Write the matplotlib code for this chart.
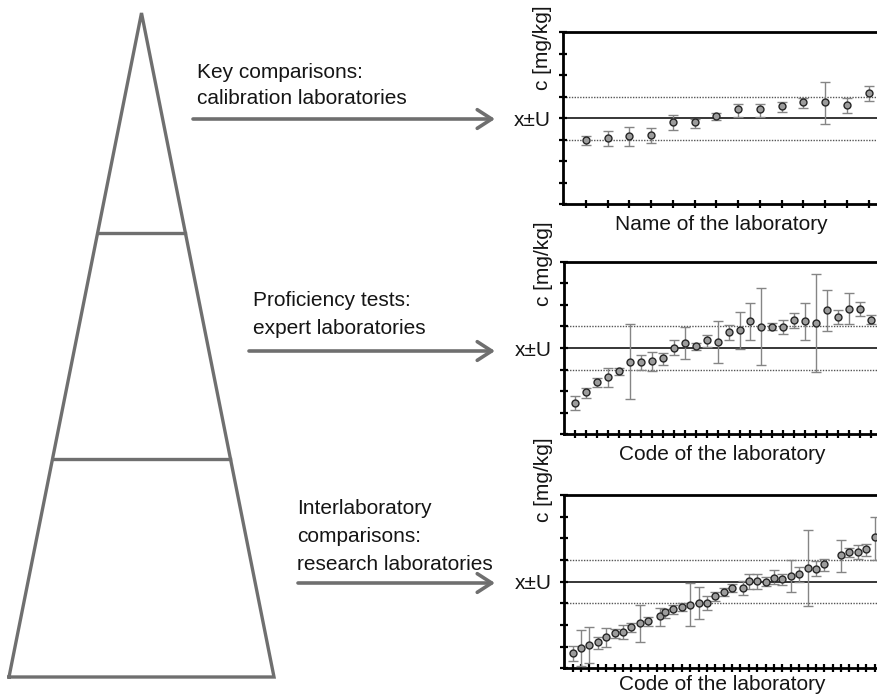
import numpy as np
import matplotlib
matplotlib.use("Agg")
import matplotlib.pyplot as plt
from matplotlib import font_manager

# condensed sans if available, plain Liberation Sans otherwise
_names = {f.name for f in font_manager.fontManager.ttflist}
FONT = "Liberation Sans Narrow" if "Liberation Sans Narrow" in _names else "Liberation Sans"
plt.rcParams["font.family"] = [FONT, "DejaVu Sans"]

# ---- key comparisons (calibration laboratories) ----
kc_x = np.arange(1, 15)
kc_y = [2.98, 3.06, 3.17, 3.23, 3.80, 3.80, 4.10, 4.41, 4.41, 4.57, 4.77, 4.74, 4.60, 5.16]
kc_hi = [3.18, 3.40, 3.60, 3.56, 4.15, 3.96, 4.25, 4.66, 4.64, 4.77, 4.94, 5.70, 4.92, 5.50]
kc_lo = [2.75, 2.70, 2.72, 2.86, 3.46, 3.54, 3.90, 4.07, 4.07, 4.29, 4.47, 3.73, 4.24, 4.81]

# ---- proficiency tests (expert laboratories) ----
pt_x = np.arange(1, 29)
pt_y = [1.46, 1.95, 2.42, 2.65, 2.92, 3.37, 3.34, 3.40, 3.52, 4.00, 4.23, 4.09, 4.35, 4.27,
        4.72, 4.82, 5.23, 4.98, 4.98, 4.98, 5.28, 5.23, 5.15, 5.74, 5.43, 5.83, 5.82, 5.28]
pt_hi = [1.78, 2.14, 2.63, 3.08, 3.08, 5.12, 3.68, 3.82, 3.77, 4.35, 4.97, 4.25, 4.60, 5.25,
         5.06, 5.66, 6.08, 6.77, 5.15, 5.32, 5.62, 6.08, 7.43, 6.71, 5.77, 6.57, 6.15, 5.52]
pt_lo = [1.12, 1.69, 2.20, 2.18, 2.74, 1.62, 2.98, 2.92, 3.22, 3.68, 3.49, 3.89, 4.03, 3.31,
         4.38, 3.97, 4.38, 3.23, 4.82, 4.65, 4.94, 4.38, 2.89, 4.78, 5.11, 5.11, 5.48, 5.09]

# ---- interlaboratory comparisons (research laboratories) ----
ilc_x = [1, 2, 3, 4, 5, 6, 7, 8, 9, 10, 11.4, 12, 13, 14, 15, 16, 17, 18, 19, 20,
         21.3, 22, 23, 24, 25, 26, 27, 28, 29, 30, 31, 33, 34, 35, 36, 37]
ilc_y = [0.69, 0.94, 1.09, 1.20, 1.43, 1.65, 1.68, 1.92, 2.08, 2.18, 2.40, 2.60, 2.74, 2.85,
         2.92, 3.03, 3.03, 3.34, 3.54, 3.72, 3.69, 4.02, 4.02, 3.98, 4.18, 4.12, 4.28, 4.34,
         4.63, 4.58, 4.82, 5.22, 5.35, 5.38, 5.51, 6.04]
ilc_hi = [1.03, 1.77, 1.92, 1.46, 1.85, 1.82, 2.00, 2.11, 2.91, 2.35, 2.80, 2.72, 2.92, 3.00,
          3.92, 3.77, 3.35, 3.54, 3.69, 3.88, 4.05, 4.35, 4.35, 4.22, 4.52, 4.37, 5.00, 4.68,
          6.38, 4.94, 5.05, 5.91, 5.57, 5.71, 5.74, 7.00]
ilc_lo = [0.35, 0.11, 0.23, 0.89, 0.97, 1.38, 1.34, 1.68, 1.23, 1.97, 1.95, 2.34, 2.51, 2.66,
          1.95, 2.28, 2.69, 3.11, 3.34, 3.54, 3.37, 3.66, 3.66, 3.82, 3.88, 3.86, 3.51, 3.97,
          2.86, 4.26, 4.49, 4.46, 5.12, 5.05, 5.20, 5.02]

ASSIGNED = 4.0      # x
U = 1.0             # expanded uncertainty band
GREY = "#6f6f6f"
TXT = "#151515"
FS = 15

fig = plt.figure(figsize=(8.77, 6.96), dpi=100)


def panel(rect, x, y, lo, hi, xlabel, xmax, ylab_y, xlab_px=26):
    ax = fig.add_axes(rect)
    h_px = rect[3] * fig.bbox.height
    y = np.asarray(y); lo = np.asarray(lo); hi = np.asarray(hi)
    ax.axhline(ASSIGNED, color="black", lw=1.1, zorder=1)
    for v in (ASSIGNED - U, ASSIGNED + U):
        ax.axhline(v, color="#555555", lw=1.0, ls=(0, (1, 1)), zorder=1)
    _, caps, bars = ax.errorbar(x, y, yerr=[y - lo, hi - y], fmt="o", ms=5.0,
                                mfc="#9c9c9c", mec="#262626", mew=1.0,
                                ecolor="#858585", elinewidth=1.0,
                                capsize=3.3, capthick=2.2, zorder=3)
    for c in caps:
        c.set_color("black")
    ax.set_xlim(-0.05, xmax)
    ax.set_ylim(0, 8)
    ax.set_yticks(np.arange(0, 9))
    ax.set_yticklabels(["" if v != ASSIGNED else "x\u00b1U" for v in range(9)],
                       fontsize=FS, color=TXT)
    ax.set_xticks(np.arange(1, int(xmax) + 1))
    ax.set_xticklabels([])
    ax.tick_params(direction="inout", length=6, width=1.6, color="black")
    ax.tick_params(axis="y", pad=6)
    ax.spines["right"].set_visible(False)
    for s in ("left", "bottom", "top"):
        ax.spines[s].set_linewidth(2.0)
    ax.set_xlabel(xlabel, fontsize=FS, color=TXT, va="baseline")
    ax.xaxis.set_label_coords(0.5, -xlab_px / h_px)
    ax.set_ylabel("c [mg/kg]", fontsize=FS, color=TXT)
    ax.yaxis.set_label_coords(-0.034, ylab_y)
    return ax


panel([0.642, 0.7069, 0.36, 0.2467], kc_x, kc_y, kc_lo, kc_hi,
      "Name of the laboratory", 14.47, 0.91)
panel([0.643, 0.376, 0.36, 0.248], pt_x, pt_y, pt_lo, pt_hi,
      "Code of the laboratory", 28.8, 0.99)
panel([0.643, 0.0398, 0.36, 0.249], ilc_x, ilc_y, ilc_lo, ilc_hi,
      "Code of the laboratory", 37.6, 1.09, xlab_px=22)

# ---- pyramid with the three tiers, drawn in pixel space ----
ov = fig.add_axes([0, 0, 1, 1], zorder=5)
ov.set_xlim(0, 877); ov.set_ylim(696, 0); ov.axis("off")

apex, base_y, base_l, base_r = (141.5, 13), 677, 9, 274
ov.plot([base_l, apex[0], base_r, base_l], [base_y, apex[1], base_y, base_y],
        color=GREY, lw=2.4, solid_joinstyle="miter")


def edge_x(yy):
    t = (yy - apex[1]) / (base_y - apex[1])
    return apex[0] + t * (base_l - apex[0]), apex[0] + t * (base_r - apex[0])


for yy in (233, 459):
    xl, xr = edge_x(yy)
    ov.plot([xl, xr], [yy, yy], color=GREY, lw=2.4)

tiers = [
    (193, 119, 197, [72, 99], ["Key comparisons:", "calibration laboratories"]),
    (249, 351, 253, [300, 328], ["Proficiency tests:", "expert laboratories"]),
    (298, 583, 297, [509, 537, 564], ["Interlaboratory", "comparisons:", "research laboratories"]),
]
for x0, ya, xt, ys, lines in tiers:
    ov.annotate("", xy=(495, ya), xytext=(x0, ya),
                arrowprops=dict(arrowstyle="->,head_length=0.65,head_width=0.42",
                                mutation_scale=16, lw=2.6, color=GREY,
                                shrinkA=0, shrinkB=0))
    for yy, s in zip(ys, lines):
        ov.text(xt, yy, s, fontsize=FS, color=TXT, va="center", ha="left")

fig.savefig("out.png", dpi=100)
